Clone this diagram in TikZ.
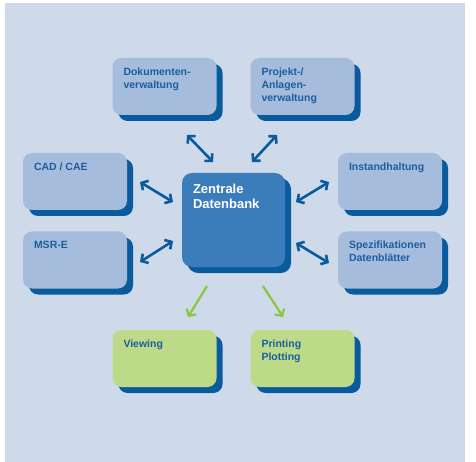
\documentclass[tikz,border=0pt]{standalone}
\usepackage{fontspec}
\setmainfont{Liberation Sans}
\usetikzlibrary{arrows.meta,shadows}
\definecolor{bgblue}{HTML}{CED9EA}
\definecolor{boxblue}{HTML}{A6BCDD}
\definecolor{darkblue}{HTML}{0A5A9E}
\definecolor{centerblue}{HTML}{3B7DBB}
\definecolor{txtblue}{HTML}{1B5E9E}
\definecolor{greenbox}{HTML}{BDDA89}
\definecolor{greenarrow}{HTML}{8CC63F}
\begin{document}
\begin{tikzpicture}[x=1pt,y=-1pt,
  boxbase/.style={rectangle, rounded corners=9pt, inner sep=0pt,
    minimum width=104pt, minimum height=57pt,
    general shadow={fill=darkblue, shadow xshift=6pt, shadow yshift=-6pt}},
  bluebox/.style={boxbase, fill=boxblue},
  greenbx/.style={boxbase, fill=greenbox},
  centerbox/.style={boxbase, fill=centerblue, minimum width=103pt, minimum height=94pt,
    rounded corners=10pt,
    general shadow={fill=darkblue, shadow xshift=5pt, shadow yshift=-5pt}},
  boxtext/.style={anchor=north west, inner sep=0pt, align=left, text=txtblue,
    font=\bfseries\fontsize{10.5}{13}\selectfont},
  centertext/.style={anchor=north west, inner sep=0pt, align=left, text=white,
    font=\bfseries\fontsize{13}{15}\selectfont},
  dblarrow/.style={draw=darkblue, line width=2.6pt,
    {Straight Barb[length=5pt,width=11pt]}-{Straight Barb[length=5pt,width=11pt]}},
  grnarrow/.style={draw=greenarrow, line width=2.2pt,
    -{Straight Barb[length=5pt,width=11pt]}}
]
\useasboundingbox (0,0) rectangle (476,462);
\fill[white] (0,0) rectangle (476,462);
\fill[bgblue] (5,3) rectangle (465,462);

% boxes
\node[bluebox] (dok) at (164.5,86.5) {};
\node[bluebox] (proj) at (302.5,86.5) {};
\node[bluebox] (cad) at (75,181.5) {};
\node[bluebox] (msr) at (75,260) {};
\node[bluebox] (inst) at (390,181.5) {};
\node[bluebox] (spez) at (390,260) {};
\node[centerbox] (zdb) at (233.5,220) {};
\node[greenbx] (view) at (164.5,358.5) {};
\node[greenbx] (print) at (302.5,358.5) {};

% texts
\node[boxtext] (tdok) at ([shift={(11,9.5)}]dok.north west) {Dokumenten-\\verwaltung};
\node[boxtext] (tproj) at ([shift={(11,9.5)}]proj.north west) {Projekt-/\\Anlagen-\\verwaltung};
\node[boxtext] (tcad) at ([shift={(11,9.5)}]cad.north west) {CAD / CAE};
\node[boxtext] (tmsr) at ([shift={(11,9.5)}]msr.north west) {MSR-E};
\node[boxtext] (tinst) at ([shift={(11,9.5)}]inst.north west) {Instandhaltung};
\node[boxtext] (tspez) at ([shift={(11,9.5)}]spez.north west) {Spezifikationen\\Datenblätter};
\node[centertext] (tzdb) at ([shift={(11,10.6)}]zdb.north west) {Zentrale\\Datenbank};
\node[boxtext] (tview) at ([shift={(11,9.5)}]view.north west) {Viewing};
\node[boxtext] (tprint) at ([shift={(11,9.5)}]print.north west) {Printing\\Plotting};

% arrow end points
\coordinate (a1) at (187,135); \coordinate (b1) at (213,162);
\coordinate (a2) at (277,135); \coordinate (b2) at (252,162);
\coordinate (a3) at (140,182); \coordinate (b3) at (173,202);
\coordinate (a4) at (140,262); \coordinate (b4) at (173,241);
\coordinate (a5) at (329,182); \coordinate (b5) at (296,202);
\coordinate (a6) at (329,263); \coordinate (b6) at (296,243);
\coordinate (g1) at (207,286); \coordinate (h1) at (188,317);
\coordinate (g2) at (263,286); \coordinate (h2) at (283,317);

\draw[dblarrow] (a1) -- (b1);
\draw[dblarrow] (a2) -- (b2);
\draw[dblarrow] (a3) -- (b3);
\draw[dblarrow] (a4) -- (b4);
\draw[dblarrow] (a5) -- (b5);
\draw[dblarrow] (a6) -- (b6);
\draw[grnarrow] (g1) -- (h1);
\draw[grnarrow] (g2) -- (h2);
\end{tikzpicture}
\end{document}
